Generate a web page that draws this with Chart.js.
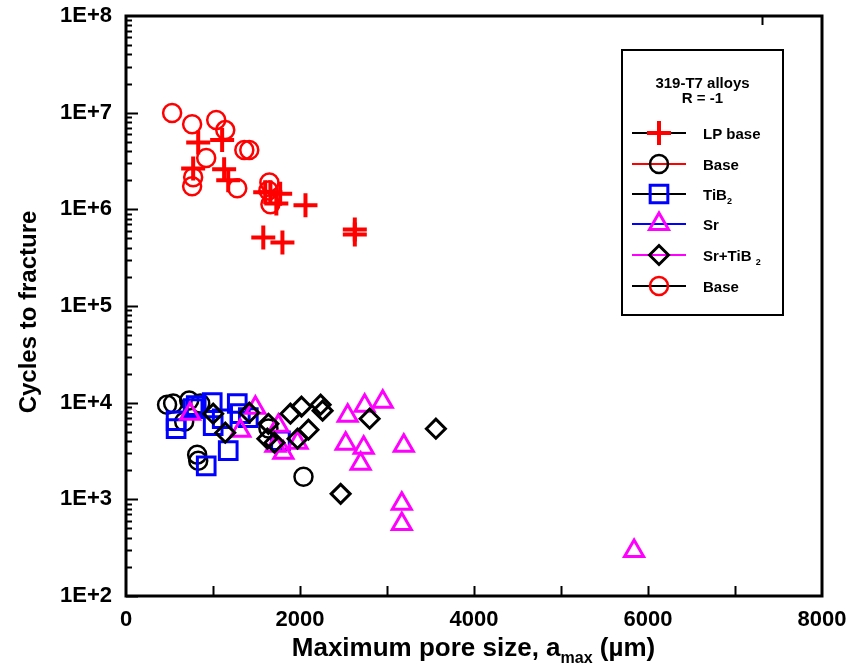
<!DOCTYPE html>
<html lang="en">
<head>
<meta charset="UTF-8">
<title>Cycles to fracture x pore size</title>
<style>
  body { margin: 0; background: #fff; }
  .chart-container { position: relative; width: 846px; height: 666px; }
</style>
</head>
<body>
<div class="chart-container"><canvas id="graficoPoros"></canvas></div>
<script src="https://cdn.jsdelivr.net/npm/chart.js"></script>
<script>
// dados (x = tamanho maximo do poro em um, y = ciclos)
const lpBaseX = [830, 1105, 772, 1128, 1175, 1660, 1728, 1600, 1772, 2063, 1578, 1798, 2630, 2630];
const lpBaseY = [4.9e6, 5.2e6, 2.65e6, 2.6e6, 2.0e6, 1.5e6, 1.15e6, 1.5e6, 1.45e6, 1.1e6, 5.1e5, 4.55e5, 6.2e5, 5.5e5];

const baseRedX = [530, 760, 1037, 1141, 1360, 1417, 922, 772, 760, 1279, 1648, 1637, 1660];
const baseRedY = [9.9e6, 7.6e6, 8.4e6, 6.6e6, 4.1e6, 4.1e6, 3.4e6, 2.15e6, 1.73e6, 1.65e6, 1.9e6, 1.57e6, 1.13e6];

const baseBlackX = [472, 542, 726, 853, 669, 818, 830, 2040, 1637];
const baseBlackY = [9500, 9800, 10500, 9800, 6350, 2900, 2500, 1710, 5400];

const tib2X = [576, 576, 807, 772, 991, 1279, 1002, 1106, 1314, 1406, 1175, 922, 1775];
const tib2Y = [6500, 5380, 9300, 8670, 10000, 9800, 5780, 6820, 7690, 7000, 3190, 2220, 4040];

const srX = [737, 1314, 1487, 1752, 1718, 1809, 1972, 2548, 2743, 2951, 2525, 2732, 2697, 3193, 3170, 3170, 5840];
const srY = [7700, 5130, 8870, 5780, 3580, 3030, 3850, 7330, 9310, 10200, 3760, 3420, 2330, 3580, 898, 557, 292];

const srTib2X = [1002, 1141, 1417, 1637, 1625, 1706, 1890, 2017, 2237, 2260, 2097, 1972, 2800, 3562, 2467];
const srTib2Y = [7690, 4890, 7870, 6050, 4240, 3850, 7690, 9090, 9530, 8270, 5250, 4240, 6820, 5380, 1140];

const xTicks = [0, 2000, 4000, 6000, 8000];
const yTicks = [1e2, 1e3, 1e4, 1e5, 1e6, 1e7, 1e8];

const fonte = "'Liberation Sans', Arial, sans-serif";
const pontos = (xs, ys) => xs.map((x, i) => ({ x: x, y: ys[i] }));

function serie(label, xs, ys, estilo, cor, corLinha, raio, espessura, ordem) {
  return {
    label: label,
    data: pontos(xs, ys),
    showLine: false,
    pointStyle: estilo,
    pointRadius: raio,
    pointHoverRadius: raio,
    pointBorderWidth: espessura,
    pointBorderColor: cor,
    pointBackgroundColor: 'rgba(0,0,0,0)',
    borderColor: cor,
    corLinha: corLinha,
    order: ordem
  };
}

const datasets = [
  serie('LP base', lpBaseX, lpBaseY, 'cross', '#ff0000', '#000000', 12, 4, 5),
  serie('Base', baseBlackX, baseBlackY, 'circle', '#000000', '#ff0000', 9, 2.5, 4),
  serie('TiB|2', tib2X, tib2Y, 'rect', '#0000ff', '#000000', 12.5, 3, 3),
  serie('Sr', srX, srY, 'triangle', '#ff00ff', '#0000ff', 11, 3, 2),
  serie('Sr+TiB |2', srTib2X, srTib2Y, 'rectRot', '#000000', '#ff00ff', 9.5, 3, 1),
  serie('Base', baseRedX, baseRedY, 'circle', '#ff0000', '#000000', 9, 2.5, 6)
];

// texto com subscrito: partes separadas por '|'
function textoSub(ctx, txt, x, y, tam) {
  const [a, b] = txt.split('|');
  ctx.textAlign = 'left';
  ctx.font = 'bold ' + tam + 'px ' + fonte;
  const wa = ctx.measureText(a).width;
  ctx.fillText(a, x, y);
  if (b) {
    ctx.font = 'bold ' + Math.round(tam * 0.62) + 'px ' + fonte;
    ctx.fillText(b, x + wa, y + tam * 0.3);
  }
}

const moldura = {
  id: 'moldura',
  afterDraw(chart) {
    const { ctx, chartArea: a, scales } = chart;
    const sx = scales.x, sy = scales.y;
    ctx.save();
    ctx.strokeStyle = '#000';
    ctx.fillStyle = '#000';

    // marcas do eixo y (log, para dentro)
    ctx.lineWidth = 2;
    ctx.beginPath();
    for (let d = 2; d < 8; d++) {
      for (let k = 1; k < 10; k++) {
        const py = Math.round(sy.getPixelForValue(k * Math.pow(10, d))) + 0.5;
        const len = k === 1 ? 12 : 6;
        ctx.moveTo(a.left, py);
        ctx.lineTo(a.left + len, py);
      }
    }
    // marcas do eixo x
    for (let v = 1000; v < 8000; v += 1000) {
      const px = Math.round(sx.getPixelForValue(v)) + 0.5;
      ctx.moveTo(px, a.bottom);
      ctx.lineTo(px, a.bottom - 10);
    }
    // resto de marca no topo
    ctx.moveTo(762.5, a.top);
    ctx.lineTo(762.5, a.top + 9);
    ctx.stroke();

    ctx.lineWidth = 3;
    ctx.strokeRect(a.left, a.top, a.right - a.left, a.bottom - a.top);

    // titulos dos eixos
    ctx.textBaseline = 'alphabetic';
    ctx.save();
    ctx.translate(36, 312);
    ctx.rotate(-Math.PI / 2);
    ctx.font = 'bold 24px ' + fonte;
    ctx.textAlign = 'center';
    ctx.fillText('Cycles to fracture', 0, 0);
    ctx.restore();

    const t1 = 'Maximum pore size, a', t2 = 'max', t3 = ' (\u00b5m)';
    ctx.font = 'bold 26px ' + fonte;
    const w1 = ctx.measureText(t1).width, w3 = ctx.measureText(t3).width;
    ctx.font = 'bold 16px ' + fonte;
    const w2 = ctx.measureText(t2).width;
    const xt = 473.5 - (w1 + w2 + w3) / 2;
    ctx.textAlign = 'left';
    ctx.font = 'bold 26px ' + fonte;
    ctx.fillText(t1, xt, 656);
    ctx.font = 'bold 16px ' + fonte;
    ctx.fillText(t2, xt + w1, 663);
    ctx.font = 'bold 26px ' + fonte;
    ctx.fillText(t3, xt + w1 + w2, 656);

    // legenda
    const lx = 622, ly = 50, lw = 161, lh = 265;
    ctx.fillStyle = '#fff';
    ctx.fillRect(lx, ly, lw, lh);
    ctx.lineWidth = 2;
    ctx.strokeRect(lx, ly, lw, lh);
    ctx.fillStyle = '#000';
    ctx.textAlign = 'center';
    ctx.font = 'bold 15px ' + fonte;
    ctx.fillText('319-T7 alloys', lx + lw / 2, 88);
    ctx.fillText('R = -1', lx + lw / 2, 103);

    const linhasY = [133, 164, 194, 224, 255, 286];
    datasets.forEach((ds, i) => {
      const yy = linhasY[i];
      ctx.strokeStyle = ds.corLinha;
      ctx.lineWidth = 2;
      ctx.beginPath();
      ctx.moveTo(632, yy);
      ctx.lineTo(686, yy);
      ctx.stroke();
      ctx.strokeStyle = ds.pointBorderColor;
      ctx.fillStyle = 'rgba(0,0,0,0)';
      ctx.lineWidth = ds.pointBorderWidth;
      Chart.helpers.drawPoint(ctx, {
        pointStyle: ds.pointStyle,
        radius: ds.pointRadius,
        rotation: 0,
        borderWidth: ds.pointBorderWidth
      }, 659, yy);
      ctx.fillStyle = '#000';
      textoSub(ctx, ds.label, 703, yy + 5.5, 15);
    });
    ctx.restore();
  }
};

new Chart(document.getElementById('graficoPoros'), {
  type: 'scatter',
  data: { datasets: datasets },
  options: {
    responsive: true,
    maintainAspectRatio: false,
    animation: false,
    layout: { padding: { top: 16, right: 24, left: 0, bottom: 0 } },
    plugins: { legend: { display: false }, tooltip: { enabled: false } },
    scales: {
      x: {
        type: 'linear',
        min: 0,
        max: 8000,
        afterBuildTicks: (s) => { s.ticks = xTicks.map(v => ({ value: v })); },
        afterFit: (s) => { s.height = 70; s.paddingLeft = 0; s.paddingRight = 0; },
        ticks: {
          callback: (v) => String(v),
          color: '#000',
          font: { family: fonte, size: 22, weight: 'bold' },
          padding: 11,
          maxRotation: 0
        },
        grid: { display: false, drawTicks: false },
        border: { display: false }
      },
      y: {
        type: 'logarithmic',
        min: 100,
        max: 1e8,
        afterBuildTicks: (s) => { s.ticks = yTicks.map(v => ({ value: v })); },
        afterFit: (s) => { s.width = 126; s.paddingTop = 0; s.paddingBottom = 0; },
        ticks: {
          callback: (v) => '1E+' + Math.round(Math.log10(v)),
          color: '#000',
          font: { family: fonte, size: 22, weight: 'bold' },
          padding: 14,
          autoSkip: false
        },
        grid: { display: false, drawTicks: false },
        border: { display: false }
      }
    }
  },
  plugins: [moldura]
});
</script>
</body>
</html>
